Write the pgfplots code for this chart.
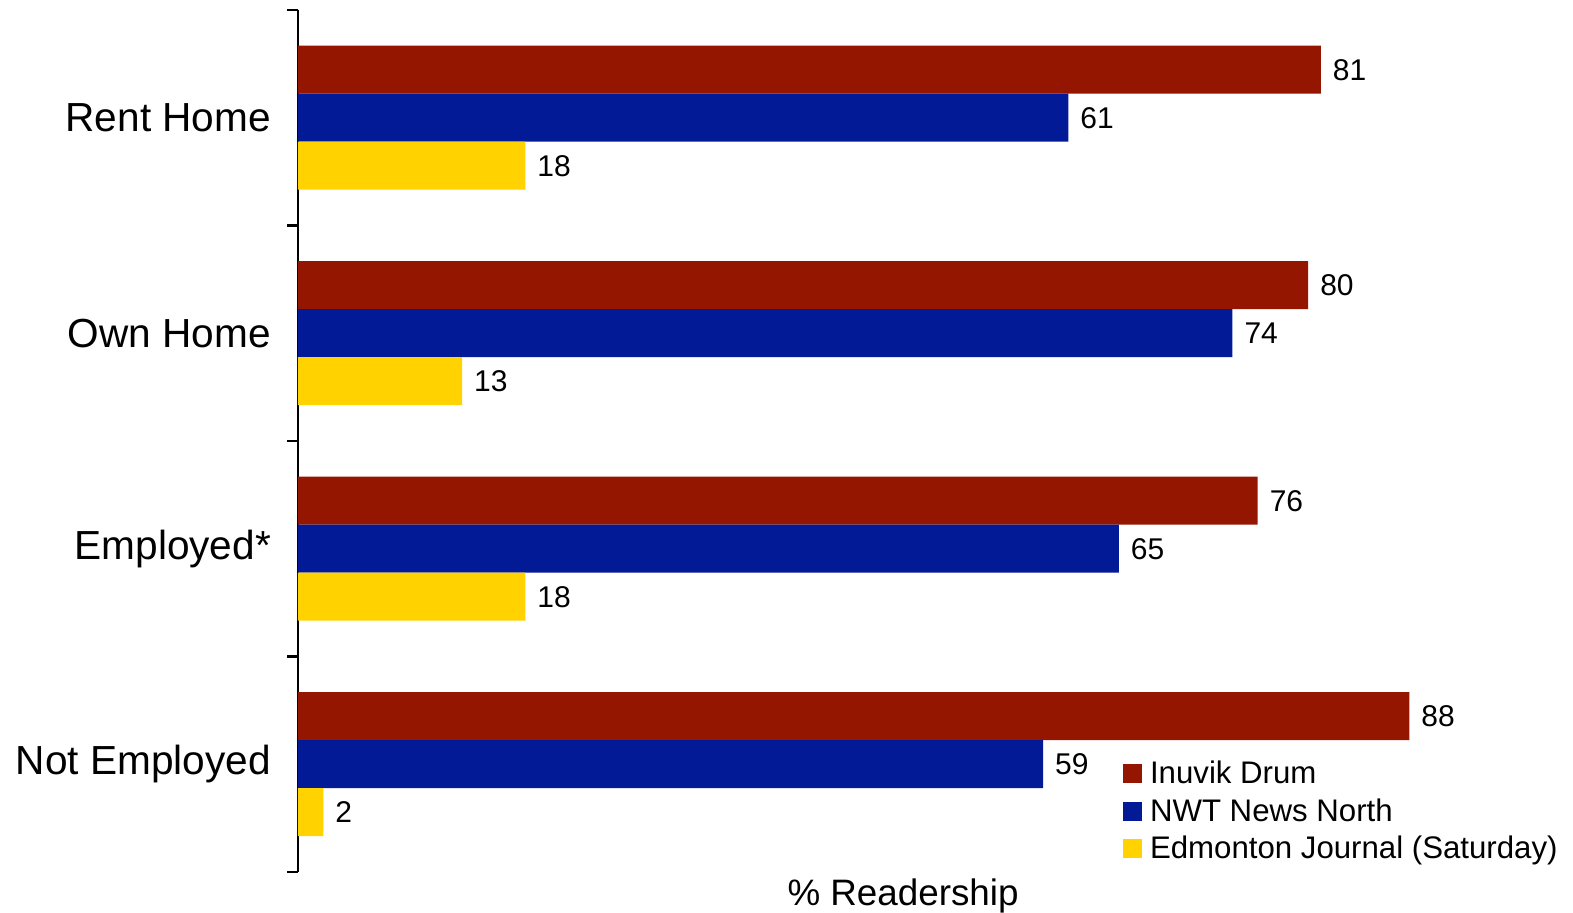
\documentclass[border=0pt]{standalone}
\usepackage{fontspec}
\setmainfont{Liberation Sans}
\usepackage{pgfplots}
\pgfplotsset{compat=1.18}
\definecolor{cRed}{RGB}{148,21,0}
\definecolor{cBlue}{RGB}{3,26,150}
\definecolor{cYel}{RGB}{255,210,0}
\begin{document}
\begin{tikzpicture}
\useasboundingbox (-149pt,-20.5pt) rectangle (637.5pt,436pt);
\begin{axis}[
  scale only axis,
  clip=false,
  width=629.5pt, height=431pt,
  xmin=0, xmax=99.7,
  ymin=-0.5, ymax=3.5,
  xbar, bar width=24pt,
  axis x line=none,
  axis y line*=left,
  y axis line style={line width=1.3pt, -},
  ytick={0,1,2,3},
  yticklabels={Not Employed,Employed*,Own Home,Rent Home},
  major tick length=0pt,
  minor ytick={-0.5,0.5,1.5,2.5,3.5},
  minor tick length=5.5pt,
  tick align=outside,
  minor tick style={line width=1.3pt, black},
  yticklabel style={font=\fontsize{20.3}{24}\selectfont, xshift=-10pt},
  nodes near coords,
  every node near coord/.append style={font=\fontsize{15}{18}\selectfont, black, anchor=west, xshift=2.5pt},
  point meta=explicit symbolic,
  legend style={draw=none, fill=none, at={(rel axis cs:0.655,0.134)}, anchor=north west,
    font=\fontsize{15.6}{19}\selectfont, row sep=2pt, inner sep=0pt,
    nodes={inner xsep=4pt}},
  legend cell align=left,
  legend image code/.code={\fill[#1] (0pt,-4.75pt) rectangle (9.5pt,4.75pt);},
]
\addplot[fill=cRed, draw=none, bar shift=24pt] coordinates {(88,0)[88] (76,1)[76] (80,2)[80] (81,3)[81]};
\addplot[fill=cBlue, draw=none, bar shift=0pt] coordinates {(59,0)[59] (65,1)[65] (74,2)[74] (61,3)[61]};
\addplot[fill=cYel, draw=none, bar shift=-24pt] coordinates {(2,0)[2] (18,1)[18] (13,2)[13] (18,3)[18]};
\legend{Inuvik Drum, NWT News North, Edmonton Journal (Saturday)}
\node[font=\fontsize{18.4}{22}\selectfont, anchor=north, inner sep=0pt] at (rel axis cs:0.4806,0) [yshift=-3pt] {\% Readership};
\end{axis}
\end{tikzpicture}
\end{document}
